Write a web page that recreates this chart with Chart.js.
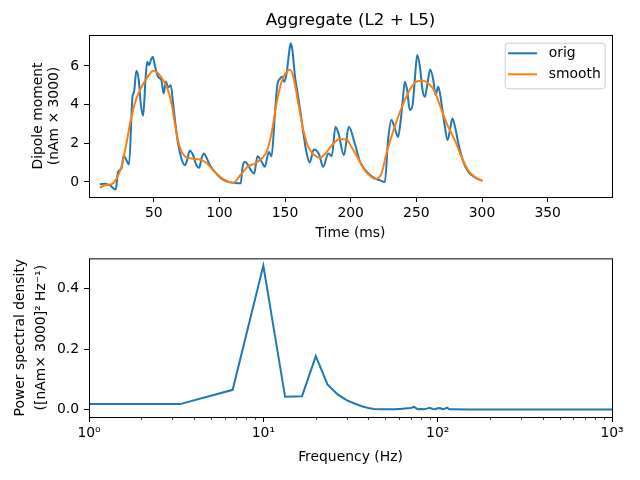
<!DOCTYPE html>
<html>
<head>
<meta charset="utf-8">
<script src="https://cdn.jsdelivr.net/npm/chart.js@4.4.0/dist/chart.umd.min.js"></script>
<style>
  html, body { margin: 0; padding: 0; background: #fff; }
  #wrap { position: relative; width: 640px; height: 480px; }
  canvas { position: absolute; left: 0; }
</style>
</head>
<body>
<div id="wrap">
  <canvas id="dipole" width="640" height="245" style="top:0"></canvas>
  <canvas id="psd" width="640" height="235" style="top:245px"></canvas>
</div>
<script>
// top panel: aggregate dipole, raw and smoothed
const origTime = [8.9, 12.7, 16.5, 21.1, 22.8, 25.4, 27.2, 29.2, 31.2, 33.8, 35.0, 36.8, 38.6, 40.1, 41.9, 43.7, 45.0, 46.5, 47.8, 49.3,
  50.8, 53.3, 55.8, 57.6, 59.2, 60.9, 63.0, 64.7, 66.5, 68.5, 71.1, 73.6, 75.4, 77.4, 80.0, 82.0, 84.6, 86.4, 88.2, 90.2,
  92.8, 96.6, 99.9, 101.5, 106.6, 111.7, 116.3, 117.5, 119.4, 121.9, 124.0, 126.5, 129.0, 130.8, 132.5, 134.6, 137.7, 139.7, 142.3, 144.1,
  146.1, 147.9, 149.2, 151.2, 153.0, 154.3, 155.6, 157.6, 159.6, 161.9, 164.0, 166.5, 168.8, 171.9, 175.9, 179.0, 183.0, 185.6, 188.4, 190.7,
  194.8, 198.6, 203.1, 206.9, 212.5, 217.5, 222.0, 226.0, 228.5, 231.0, 233.6, 236.1, 238.1, 239.9, 241.2, 243.0, 245.0, 247.1, 248.8, 250.6,
  252.7, 254.7, 256.5, 258.5, 260.6, 262.9, 264.6, 266.7, 268.4, 271.0, 273.8, 275.6, 277.4, 279.5, 282.0, 285.8, 289.6, 294.7, 300.3]
const origDipole = [-0.12, -0.09, -0.17, -0.39, 0.52, 0.69, 1.38, 1.12, 0.9, 4.4, 4.66, 5.75, 5.27, 4.06, 3.42, 5.27, 6.22, 6.04, 6.3, 6.48,
  6.04, 5.44, 5.27, 4.58, 5.2, 4.9, 5.0, 4.06, 3.03, 1.99, 1.21, 0.86, 1.12, 1.61, 1.38, 0.95, 0.73, 1.21, 1.47, 1.25,
  0.86, 0.52, 0.26, 0.17, 0.0, -0.05, -0.07, 0.7, 1.04, 0.86, 0.6, 0.43, 1.33, 1.21, 1.0, 0.78, 1.55, 1.33, 3.54, 5.01,
  5.34, 5.44, 5.18, 5.62, 6.65, 7.17, 6.82, 5.44, 4.58, 3.54, 2.51, 1.47, 1.0, 1.68, 1.43, 0.78, 1.47, 1.33, 2.85, 2.51,
  1.38, 2.85, 1.99, 1.08, 0.5, 0.22, 0.09, 0.0, 2.2, 3.2, 2.77, 2.33, 3.2, 4.4, 5.18, 4.75, 3.72, 3.97, 5.27, 6.56,
  5.96, 4.75, 4.4, 5.1, 5.82, 5.27, 4.49, 4.92, 4.4, 3.2, 2.16, 2.68, 3.28, 2.84, 1.99, 1.04, 0.52, 0.23, 0.05]

const smoothTime = [8.9, 12.7, 17.8, 21.6, 25.4, 29.2, 33.0, 36.8, 40.6, 44.4, 48.3, 50.0, 53.3, 57.1, 60.9, 64.0, 66.5, 69.8, 73.6, 78.7,
  85.0, 90.2, 95.3, 99.9, 104.0, 110.4, 116.8, 121.9, 127.0, 132.1, 135.9, 139.7, 143.5, 147.4, 151.2, 153.7, 156.3, 160.1, 163.9, 167.7,
  171.5, 176.6, 181.7, 186.8, 191.9, 196.9, 200.6, 205.7, 210.7, 215.8, 218.5, 223.4, 227.2, 231.0, 236.1, 241.2, 246.3, 251.4, 255.2, 259.0,
  264.1, 269.2, 274.3, 279.3, 284.4, 289.5, 294.6, 300.2]
const smoothDipole = [-0.31, -0.17, -0.12, 0.17, 0.78, 1.99, 3.37, 4.32, 4.9, 5.34, 5.7, 5.75, 5.62, 5.27, 4.75, 3.89, 2.85, 1.81, 1.33, 1.21,
  1.16, 0.98, 0.6, 0.3, 0.1, -0.05, 0.43, 0.81, 0.95, 1.21, 1.55, 2.51, 4.06, 5.18, 5.7, 5.8, 5.44, 4.06, 2.68, 1.81,
  1.43, 1.26, 1.55, 1.99, 2.22, 2.2, 1.81, 1.21, 0.6, 0.26, 0.16, 0.43, 1.47, 2.33, 3.37, 4.23, 4.92, 5.22, 5.23, 5.1,
  4.66, 3.72, 2.84, 2.16, 1.29, 0.6, 0.26, 0.05]

const timeTicks = [50, 100, 150, 200, 250, 300, 350]
const dipoleTicks = [0, 2, 4, 6]

// bottom panel: power spectral density
const freqHz = [1, 3.33, 6.67, 10, 13.33, 16.67, 20, 23.33, 26.67, 30, 33.33, 36.67, 40, 43.33, 46.67, 50, 53.33, 56.67, 60, 63.33,
  66.67, 70, 73.33, 76.67, 80, 83.33, 86.67, 90, 93.33, 96.67, 100, 103.33, 106.67, 110, 113.33, 116.67, 120, 150, 200, 300,
  500, 1000]
const psdValues = [0.019, 0.019, 0.066, 0.475, 0.043, 0.045, 0.177, 0.084, 0.051, 0.032, 0.021, 0.012, 0.006, 0.003, 0.002, 0.002, 0.002, 0.002, 0.003, 0.004,
  0.005, 0.006, 0.010, 0.002, 0.003, 0.002, 0.004, 0.007, 0.003, 0.002, 0.005, 0.006, 0.002, 0.004, 0.007, 0.002, 0.002, 0.001, 0.001, 0.001,
  0.001, 0.001]

const freqTicks = [1, 10, 100, 1000]
const psdTicks = [0, 0.2, 0.4]
const superscripts = { 0: '⁰', 1: '¹', 2: '²', 3: '³' }

const BLUE = '#1f77b4'
const ORANGE = '#ff7f0e'
const FONT = 13.9

Chart.defaults.font.family = "'DejaVu Sans', sans-serif"
Chart.defaults.font.size = FONT
Chart.defaults.color = '#000'

const toPoints = (xs, ys) => xs.map((x, i) => ({ x: x, y: ys[i] }))

// black box around the plot area, like matplotlib spines
const frame = {
  id: 'frame',
  afterDraw(chart) {
    const { ctx, chartArea: a } = chart
    ctx.save()
    ctx.strokeStyle = '#000'
    ctx.lineWidth = 1
    ctx.strokeRect(a.left + 0.5, a.top + 0.5, a.right - a.left, a.bottom - a.top)
    ctx.restore()
  }
}

// title centred over the axes, not the whole canvas
const axesTitle = {
  id: 'axesTitle',
  afterDraw(chart, args, opts) {
    const { ctx, chartArea: a } = chart
    ctx.save()
    ctx.font = "16.7px 'DejaVu Sans'"
    ctx.fillStyle = '#000'
    ctx.textAlign = 'center'
    ctx.textBaseline = 'middle'
    ctx.fillText(opts.text, (a.left + a.right) / 2, a.top - 14)
    ctx.restore()
  }
}

const legendBox = {
  id: 'legendBox',
  afterDraw(chart) {
    const { ctx, chartArea: a } = chart
    const w = 100, h = 45.6
    const x = a.right - 7.3 - w
    const y = a.top + 7.7
    ctx.save()
    ctx.beginPath()
    ctx.roundRect(x + 0.5, y + 0.5, w, h, 3)
    ctx.fillStyle = 'rgba(255,255,255,0.8)'
    ctx.fill()
    ctx.strokeStyle = '#cccccc'
    ctx.lineWidth = 1
    ctx.stroke()
    ctx.font = FONT + "px 'DejaVu Sans'"
    ctx.textBaseline = 'middle'
    chart.data.datasets.forEach((ds, i) => {
      const ly = y + 10.6 + i * 21
      ctx.strokeStyle = ds.borderColor
      ctx.lineWidth = 2
      ctx.beginPath()
      ctx.moveTo(x + 3.3, ly)
      ctx.lineTo(x + 32.3, ly)
      ctx.stroke()
      ctx.fillStyle = '#000'
      ctx.fillText(ds.label, x + 44, ly)
    })
    ctx.restore()
  }
}

const freqMinor = []
for (const decade of [1, 10, 100]) {
  for (let m = 2; m <= 9; m++) freqMinor.push(m * decade)
}

const minorTicks = {
  id: 'minorTicks',
  afterDraw(chart) {
    const { ctx, chartArea: a } = chart
    const scale = chart.scales.x
    ctx.save()
    ctx.strokeStyle = '#000'
    ctx.lineWidth = 0.8
    freqMinor.forEach(v => {
      const px = Math.round(scale.getPixelForValue(v)) + 0.5
      ctx.beginPath()
      ctx.moveTo(px, a.bottom)
      ctx.lineTo(px, a.bottom + 2.8)
      ctx.stroke()
    })
    ctx.restore()
  }
}

const tickGrid = {
  drawOnChartArea: false,
  drawTicks: true,
  tickLength: 5,
  color: '#000',
  lineWidth: 1
}

new Chart(document.getElementById('dipole'), {
  type: 'line',
  data: {
    datasets: [
      {
        label: 'orig',
        data: toPoints(origTime, origDipole),
        borderColor: BLUE,
        borderWidth: 2,
        pointRadius: 0,
        cubicInterpolationMode: 'monotone',
        order: 1
      },
      {
        label: 'smooth',
        data: toPoints(smoothTime, smoothDipole),
        borderColor: ORANGE,
        borderWidth: 2,
        pointRadius: 0,
        cubicInterpolationMode: 'monotone',
        order: 0
      }
    ]
  },
  options: {
    responsive: false,
    animation: false,
    layout: { padding: { left: 0, right: 28, top: 35, bottom: 0 } },
    plugins: {
      legend: { display: false },
      tooltip: { enabled: false },
      axesTitle: { text: 'Aggregate (L2 + L5)' }
    },
    scales: {
      x: {
        type: 'linear',
        min: 0.7,
        max: 399,
        afterBuildTicks: scale => { scale.ticks = timeTicks.map(v => ({ value: v })) },
        afterFit: scale => { scale.height = 48 },
        grid: tickGrid,
        border: { display: false },
        ticks: { padding: 3, autoSkip: false, maxRotation: 0 },
        title: { display: true, text: 'Time (ms)', padding: { top: 0, bottom: 3.6 } }
      },
      y: {
        min: -0.78,
        max: 7.6,
        afterBuildTicks: scale => { scale.ticks = dipoleTicks.map(v => ({ value: v })) },
        afterFit: scale => { scale.width = 89 },
        grid: tickGrid,
        border: { display: false },
        ticks: { padding: 5 },
        title: { display: true, text: ['Dipole moment', '(nAm × 3000)'], padding: { top: 29.7, bottom: 0 } }
      }
    }
  },
  plugins: [frame, axesTitle, legendBox]
})

new Chart(document.getElementById('psd'), {
  type: 'line',
  data: {
    datasets: [
      {
        label: 'psd',
        data: toPoints(freqHz, psdValues),
        borderColor: BLUE,
        borderWidth: 2,
        pointRadius: 0,
        tension: 0
      }
    ]
  },
  options: {
    responsive: false,
    animation: false,
    layout: { padding: { left: 0, right: 28, top: 10, bottom: 0 } },
    plugins: {
      legend: { display: false },
      tooltip: { enabled: false }
    },
    scales: {
      x: {
        type: 'logarithmic',
        min: 1,
        max: 1000,
        afterBuildTicks: scale => { scale.ticks = freqTicks.map(v => ({ value: v, major: true })) },
        afterFit: scale => { scale.height = 63 },
        grid: tickGrid,
        border: { display: false },
        ticks: {
          padding: 3,
          autoSkip: false,
          maxRotation: 0,
          callback: v => '10' + superscripts[Math.round(Math.log10(v))]
        },
        title: { display: true, text: 'Frequency (Hz)', padding: { top: 0, bottom: 14.7 } }
      },
      y: {
        min: -0.0235,
        max: 0.499,
        afterBuildTicks: scale => { scale.ticks = psdTicks.map(v => ({ value: v })) },
        afterFit: scale => { scale.width = 89 },
        grid: tickGrid,
        border: { display: false },
        ticks: { padding: 5, callback: v => v.toFixed(1) },
        title: {
          display: true,
          text: ['Power spectral density', '([nAm× 3000]² Hz⁻¹)'],
          font: { size: FONT, lineHeight: 1.56 },
          padding: { top: 9.2, bottom: 0 }
        }
      }
    }
  },
  plugins: [frame, minorTicks]
})
</script>
</body>
</html>
